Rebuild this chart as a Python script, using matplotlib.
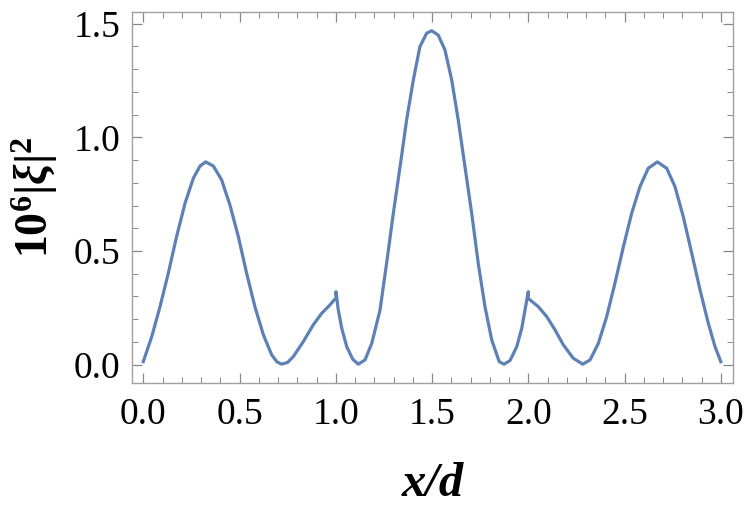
import matplotlib
matplotlib.use("Agg")
import matplotlib.pyplot as plt
from matplotlib.ticker import MultipleLocator

plt.rcParams['font.family'] = ['Liberation Serif', 'DejaVu Serif']
plt.rcParams['mathtext.fontset'] = 'custom'
plt.rcParams['mathtext.rm'] = 'Liberation Serif:bold'
plt.rcParams['mathtext.it'] = 'Liberation Serif:bold:italic'
plt.rcParams['mathtext.bf'] = 'Liberation Serif:bold'

# values
x_vals = [0.000, 0.044, 0.087, 0.130, 0.173, 0.217, 0.260, 0.295, 0.324, 0.364, 0.407,
          0.450, 0.494, 0.537, 0.580, 0.624, 0.667, 0.695, 0.719, 0.750, 0.779, 0.831,
          0.883, 0.927, 0.970, 0.992, 1.001,
          1.001, 1.013, 1.031, 1.057, 1.088, 1.117, 1.152, 1.187, 1.230, 1.264, 1.299,
          1.334, 1.368, 1.403, 1.437, 1.472, 1.498, 1.532, 1.567, 1.602, 1.636, 1.671,
          1.706, 1.740, 1.775, 1.810, 1.849, 1.874, 1.905, 1.940, 1.966, 1.983, 2.000,
          2.000, 2.009, 2.052, 2.096, 2.139, 2.182, 2.234, 2.283, 2.321, 2.364, 2.407,
          2.450, 2.494, 2.537, 2.580, 2.623, 2.670, 2.719, 2.762, 2.805, 2.849, 2.892,
          2.935, 2.970, 3.000]
y_vals = [0.013, 0.123, 0.255, 0.402, 0.563, 0.710, 0.820, 0.874, 0.892, 0.874, 0.813,
          0.703, 0.563, 0.402, 0.255, 0.131, 0.043, 0.012, 0.002, 0.010, 0.035, 0.101,
          0.175, 0.226, 0.263, 0.285, 0.290,
          0.321, 0.241, 0.160, 0.079, 0.024, 0.002, 0.021, 0.094, 0.241, 0.446, 0.666,
          0.871, 1.077, 1.253, 1.399, 1.458, 1.469, 1.450, 1.385, 1.253, 1.077, 0.871,
          0.666, 0.446, 0.255, 0.109, 0.013, 0.002, 0.018, 0.079, 0.160, 0.241, 0.321,
          0.290, 0.285, 0.255, 0.211, 0.153, 0.087, 0.028, 0.002, 0.021, 0.094, 0.211,
          0.358, 0.519, 0.666, 0.783, 0.864, 0.892, 0.864, 0.783, 0.651, 0.490, 0.329,
          0.182, 0.079, 0.013]

x_ticks = [0.0, 0.5, 1.0, 1.5, 2.0, 2.5, 3.0]
y_ticks = [0.0, 0.5, 1.0, 1.5]

fig = plt.figure(figsize=(7.5, 5.07), dpi=100)
ax = fig.add_axes([0.1756, 0.244, 0.8014, 0.733])

ax.plot(x_vals, y_vals, color='#5E81B5', lw=2.3, solid_joinstyle='round')

ax.set_xlim(-0.06, 3.062)
ax.set_ylim(-0.082, 1.553)
ax.set_xticks(x_ticks)
ax.set_yticks(y_ticks)
ax.set_xticklabels([f"{t:.1f}" for t in x_ticks])
ax.set_yticklabels([f"{t:.1f}" for t in y_ticks])
ax.xaxis.set_minor_locator(MultipleLocator(0.1))
ax.yaxis.set_minor_locator(MultipleLocator(0.1))

for s in ax.spines.values():
    s.set_color('#A0A0A0')
    s.set_linewidth(1.0)

ax.tick_params(which='both', direction='in', top=True, right=True, color='#888888',
               labelsize=27, labelcolor='black')
ax.tick_params(which='major', length=7, width=0.9)
ax.tick_params(which='minor', length=4, width=0.7)
ax.tick_params(axis='x', which='major', pad=10)
ax.tick_params(axis='y', which='major', pad=8)

ax.set_xlabel('x/d', fontsize=35, fontweight='bold', fontstyle='italic', labelpad=22)
ax.set_ylabel(r'$\mathrm{10}^{6}|\mathit{\xi}|^{2}$', fontsize=33, labelpad=10)

fig.savefig('out.png', dpi=100)
